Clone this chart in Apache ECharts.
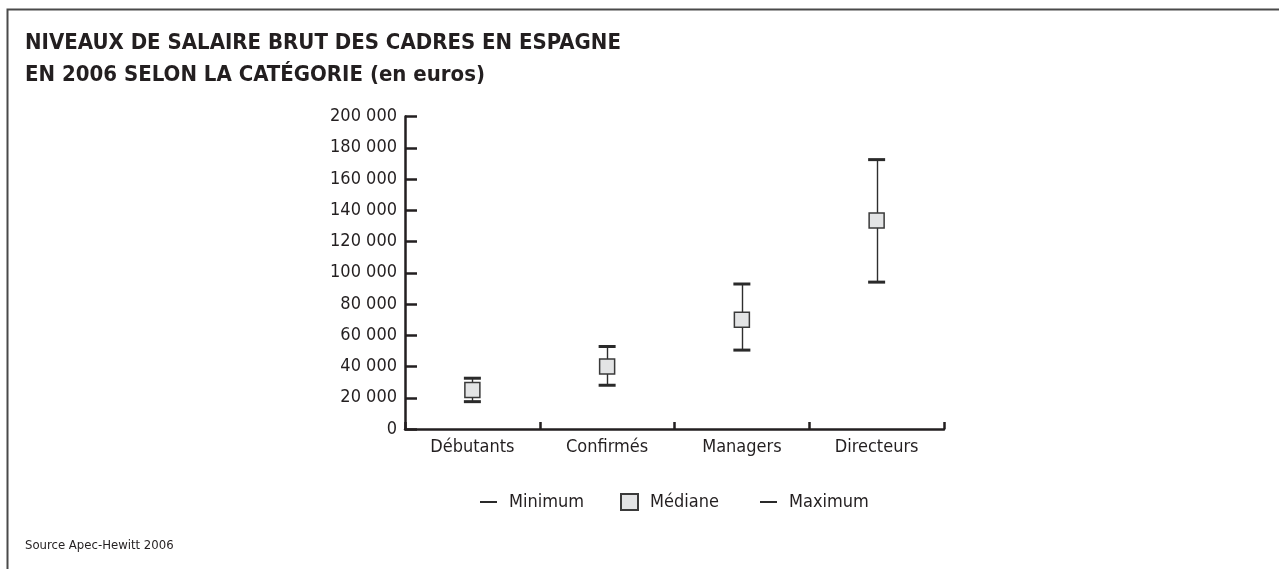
<!DOCTYPE html>
<html>
<head>
<meta charset="utf-8">
<script src="https://cdn.jsdelivr.net/npm/echarts@6/dist/echarts.min.js"></script>
<style>
html,body{margin:0;padding:0;background:#fff;}
#chart{width:1279px;height:569px;}
</style>
</head>
<body>
<div id="chart"></div>
<script>
const categories = ['Débutants', 'Confirmés', 'Managers', 'Directeurs'];
const minimum = [17500, 28000, 50500, 94000];
const mediane = [25000, 40000, 70000, 133500];
const maximum = [32500, 52800, 92800, 172400];
const yTicks = { min: 0, max: 200000, interval: 20000 };
const titleText = 'NIVEAUX DE SALAIRE BRUT DES CADRES EN ESPAGNE\nEN 2006 SELON LA CATÉGORIE (en euros)';
const sourceText = 'Source Apec-Hewitt 2006';

const FONT = '"DejaVu Sans Condensed", "DejaVu Sans", sans-serif';
const INK = '#231f20';

const chart = echarts.init(document.getElementById('chart'), null, { renderer: 'canvas' });

const dashIcon = 'path://M0,0H17V2H0Z';
function legendAt(left, name, icon) {
  return {
    left: left, top: 493, orient: 'horizontal', padding: 0,
    itemWidth: 17, itemHeight: 16,
    selectedMode: false,
    data: [{ name: name, icon: icon }],
    textStyle: { fontFamily: FONT, fontSize: 18, color: INK, padding: [0, 0, 0, 7] }
  };
}

const option = {
  animation: false,
  backgroundColor: '#fff',
  title: [
    {
      text: titleText, left: 25, top: 27, padding: 0,
      textStyle: { fontFamily: FONT, fontSize: 22, fontWeight: 'bold', color: INK, lineHeight: 32 }
    },
    {
      text: sourceText, left: 25, top: 539, padding: 0,
      textStyle: { fontFamily: FONT, fontSize: 13, fontWeight: 'normal', color: INK }
    }
  ],
  legend: [
    legendAt(480, 'Minimum', dashIcon),
    legendAt(620, 'Médiane', 'rect'),
    legendAt(760, 'Maximum', dashIcon)
  ],
  grid: { left: 405, right: 335, top: 116.5, bottom: 140, containLabel: false },
  xAxis: {
    type: 'category',
    data: categories,
    boundaryGap: true,
    axisLine: { lineStyle: { color: INK, width: 2.5 } },
    axisTick: { show: true, inside: true, length: 7, lineStyle: { color: INK, width: 2.5 } },
    axisLabel: { fontFamily: FONT, fontSize: 18, color: INK, margin: 9 },
    splitLine: { show: false }
  },
  yAxis: {
    type: 'value',
    min: yTicks.min, max: yTicks.max, interval: yTicks.interval,
    axisLine: { show: true, lineStyle: { color: INK, width: 2.5 } },
    axisTick: { show: true, inside: true, length: 12, lineStyle: { color: INK, width: 2.5 } },
    axisLabel: {
      fontFamily: FONT, fontSize: 18, color: INK, margin: 8,
      formatter: v => String(v).replace(/\B(?=(\d{3})+(?!\d))/g, ' ')
    },
    splitLine: { show: false }
  },
  graphic: [
    {
      type: 'polyline', silent: true,
      shape: { points: [[7.5, 569], [7.5, 9.5], [1279, 9.5]] },
      style: { stroke: '#4a4a4a', lineWidth: 2, fill: null }
    }
  ],
  series: [
    {
      name: 'range', type: 'custom', silent: true, z: 1,
      data: categories.map((c, i) => [i, minimum[i], maximum[i]]),
      encode: { x: 0, y: [1, 2] },
      renderItem: function (params, api) {
        const p1 = api.coord([api.value(0), api.value(1)]);
        const p2 = api.coord([api.value(0), api.value(2)]);
        const x = Math.round(p1[0]) + 0.5;
        return {
          type: 'line',
          shape: { x1: x, y1: p1[1], x2: x, y2: p2[1] },
          style: { stroke: '#2e2e2e', lineWidth: 1.4 }
        };
      }
    },
    {
      name: 'Minimum', type: 'scatter', z: 3,
      symbol: 'rect', symbolSize: [17, 3],
      itemStyle: { color: '#2a2a2a', opacity: 1 },
      data: minimum.map((v, i) => [i, v]),
      emphasis: { disabled: true }
    },
    {
      name: 'Maximum', type: 'scatter', z: 3,
      symbol: 'rect', symbolSize: [17, 3],
      itemStyle: { color: '#2a2a2a', opacity: 1 },
      data: maximum.map((v, i) => [i, v]),
      emphasis: { disabled: true }
    },
    {
      name: 'Médiane', type: 'scatter', z: 4,
      symbol: 'rect', symbolSize: [15, 15],
      itemStyle: { color: '#e3e4e5', borderColor: '#3a3a3a', borderWidth: 1.5, opacity: 1 },
      data: mediane.map((v, i) => [i, v]),
      emphasis: { disabled: true }
    }
  ]
};

chart.setOption(option);
</script>
</body>
</html>
